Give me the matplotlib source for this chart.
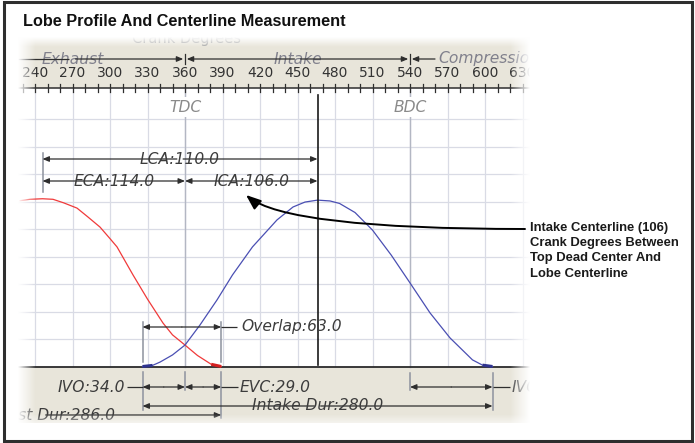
import matplotlib
matplotlib.use('Agg')
import matplotlib.pyplot as plt
import numpy as np
from matplotlib.patches import Rectangle

# ---------------- data ----------------
title = 'Lobe Profile And Centerline Measurement'
note = ('Intake Centerline (106)\nCrank Degrees Between\n'
        'Top Dead Center And\nLobe Centerline')
axis_title = 'Crank Degrees'

tdc = 360.0
bdc = 540.0
ivo_btdc = 34.0
evc_atdc = 29.0
ivc_abdc = 66.0
intake_dur = 280.0
exhaust_dur = 286.0
ica = 106.0
eca = 114.0
lca = 110.0
overlap = 63.0

stroke_names = ['Exhaust', 'Intake', 'Compression']
stroke_edges = [180, 360, 540, 720]
tick_values = list(range(240, 631, 30))
minor_ticks = list(range(230, 640, 10))

intake_deg = [326, 334, 340, 350, 360, 372, 385.6, 398, 414, 433.6, 446.4, 456, 466,
              476, 483.6, 496, 510, 525, 540, 556, 572, 590, 598, 606]
intake_lift = [0, 0.04, 0.16, 0.42, 0.78, 1.51, 2.42, 3.33, 4.35, 5.33, 5.8, 5.98, 6.05,
               6.02, 5.93, 5.6, 4.96, 4.05, 3.04, 1.95, 1.04, 0.24, 0.05, 0]
exhaust_deg = [228, 236, 246, 254.4, 263, 273.6, 282, 292, 300, 305.6, 318.4, 330,
               342.4, 350, 360, 370, 381, 389]
exhaust_lift = [6.03, 6.08, 6.1, 6.08, 5.95, 5.76, 5.45, 5.07, 4.65, 4.35, 3.33, 2.45,
                1.58, 1.15, 0.78, 0.40, 0.08, 0]

# derived valve events
ivo = tdc - ivo_btdc
evc = tdc + evc_atdc
ivc = bdc + ivc_abdc
icl = tdc + ica
ecl = tdc - eca
evo = evc - exhaust_dur

# ---------------- layout ----------------
W, H = 695, 443
PXD = 1.25      # pixels per crank degree
X_TDC = 185     # pixel column of TDC
PXL = 27.5      # pixels per lift grid step
Y_BASE = 366.5  # pixel row of zero lift


def dx(px):
    return tdc + (px - X_TDC) / PXD


def ly(py):
    return (Y_BASE - py) / PXL


PL, PR, PT, PB = 18, 530, 37, 430
BEIGE = '#e8e5da'
GRID = '#d9dbe5'
MAJ = '#b3b7c3'
DIM = '#2e2e2e'
EXT = '#8d929e'
TXT = '#3c3c3c'
STROKE_TXT = '#80808c'
RED = '#f03a3a'
BLUE = '#4a4fb3'
IT = dict(style='italic', family='DejaVu Sans', fontsize=11.2, clip_on=True)

fig = plt.figure(figsize=(W / 100, H / 100), dpi=100)
fig.patch.set_facecolor('white')
ax = fig.add_axes([PL / W, (H - PB) / H, (PR - PL) / W, (PB - PT) / H])
ax.set_axis_off()
X0, X1 = dx(PL), dx(PR)
Y0, Y1 = ly(PB), ly(PT)

# bands
ax.add_patch(Rectangle((X0, ly(88)), X1 - X0, Y1 - ly(88), color=BEIGE, lw=0, zorder=0))
ax.add_patch(Rectangle((X0, ly(423)), X1 - X0, ly(367) - ly(423), color=BEIGE, lw=0, zorder=0))

# grid
top_grid = ly(88)
for v in tick_values:
    ax.plot([v, v], [0, top_grid], color=GRID, lw=0.9, zorder=1)
for k in range(1, 10):
    ax.plot([X0, X1], [k, k], color=GRID, lw=0.9, zorder=1)
for v in (tdc, bdc):
    ax.plot([v, v], [0, top_grid], color=MAJ, lw=1.0, zorder=1.5)
for v, s in ((tdc, 'TDC'), (bdc, 'BDC')):
    ax.text(v, ly(107), s, ha='center', va='center', color='#8a8a8a', zorder=2,
            bbox=dict(boxstyle='square,pad=0.15', fc='white', ec='none'), **IT)

# tick row
ax.plot([X0, X1], [ly(88), ly(88)], color=DIM, lw=1.1, zorder=3)
for v in minor_ticks:
    ax.plot([v, v], [ly(84), ly(92)], color=DIM, lw=0.9, zorder=3)
for v in tick_values:
    ax.text(v, ly(73), str(v), ha='center', va='center', fontsize=10,
            family='DejaVu Sans', color='#333333', zorder=3, clip_on=True)
ax.text(dx(186), ly(38.5), axis_title, ha='center', va='center', color='#a8a8a8',
        family='DejaVu Sans', fontsize=10.5, zorder=3, clip_on=True)

# baseline & centerline
ax.plot([X0, X1], [0, 0], color='#2a2a2a', lw=1.3, zorder=4)
ax.plot([icl, icl], [0.05, ly(95)], color='#1a1a1a', lw=1.2, zorder=6)

# lobes
ax.plot(exhaust_deg, exhaust_lift, color=RED, lw=0.9, zorder=5)
ax.plot(exhaust_deg[-2:], exhaust_lift[-2:], color='#d42020', lw=2.2, zorder=5,
        solid_capstyle='butt')
ax.plot(intake_deg, intake_lift, color=BLUE, lw=0.9, zorder=5)
ax.plot(intake_deg[:2], intake_lift[:2], color='#2f338f', lw=2.2, zorder=5,
        solid_capstyle='butt')
ax.plot(intake_deg[-2:], intake_lift[-2:], color='#2f338f', lw=2.2, zorder=5,
        solid_capstyle='butt')

renderer = fig.canvas.get_renderer()
inv = ax.transData.inverted()
GAP = 3 / PXD


def span(t):
    bb = t.get_window_extent(renderer=renderer)
    (a, _), (b, _) = inv.transform([[bb.x0, bb.y0], [bb.x1, bb.y1]])
    return a, b


def seg(x0, x1, y, color=DIM, lw=0.9, z=7):
    ax.plot([x0, x1], [y, y], color=color, lw=lw, zorder=z, solid_capstyle='butt')


def arrow(x_from, x_to, y, color=DIM, lw=0.9, z=7):
    ax.annotate('', xy=(x_to, y), xytext=(x_from, y),
                arrowprops=dict(arrowstyle='-|>,head_length=0.38,head_width=0.16',
                                mutation_scale=10, lw=lw, color=color,
                                shrinkA=0, shrinkB=0), zorder=z)


def vline(x, py0, py1, color=EXT, lw=1.1, z=6):
    ax.plot([x, x], [ly(py0), ly(py1)], color=color, lw=lw, zorder=z)


def dim(xa, xb, py, label=None, color=DIM):
    y = ly(py)
    if label is None:
        arrow(0.5 * (xa + xb), xa, y, color)
        arrow(0.5 * (xa + xb), xb, y, color)
        return
    t = ax.text(0.5 * (xa + xb), y, label, ha='center', va='center', color=TXT,
                zorder=8, **IT)
    a, b = span(t)
    arrow(a - GAP, xa, y, color)
    arrow(b + GAP, xb, y, color)


# stroke row
yr = ly(59)
mids = [0.5 * (stroke_edges[i] + stroke_edges[i + 1]) for i in range(3)]
t_ex = ax.text(mids[0], yr, stroke_names[0], ha='center', va='center', color=STROKE_TXT, zorder=3, **IT)
t_in = ax.text(mids[1], yr, stroke_names[1], ha='center', va='center', color=STROKE_TXT, zorder=3, **IT)
t_co = ax.text(dx(438), yr, stroke_names[2], ha='left', va='center', color=STROKE_TXT, zorder=3, **IT)
a, b = span(t_ex)
seg(X0, a - GAP, yr)
arrow(b + GAP, stroke_edges[1] - 1.4, yr)
a, b = span(t_in)
arrow(a - GAP, stroke_edges[1] + 1.4, yr)
arrow(b + GAP, stroke_edges[2] - 1.4, yr)
a, b = span(t_co)
arrow(a - GAP, stroke_edges[2] + 1.4, yr)
for v in stroke_edges[1:3]:
    vline(v, 54, 64, color=DIM, lw=0.9)

# centerline dimensions
vline(ecl, 153, 192)
dim(ecl, icl, 159, f'LCA:{lca:.1f}')
dim(ecl, tdc, 181, f'ECA:{eca:.1f}')
dim(tdc, icl, 181, f'ICA:{ica:.1f}')

# overlap
vline(ivo, 322, 362)
vline(evc, 322, 362)
dim(ivo, evc, 327)
seg(evc, dx(237), ly(327))
ax.text(dx(241), ly(327), f'Overlap:{overlap:.1f}', ha='left', va='center',
        color=TXT, zorder=8, **IT)

# footer dimensions
vline(ivo, 372, 410)
vline(evc, 372, 418)
vline(tdc, 372, 390)
vline(bdc, 373, 390)
vline(ivc, 373, 410)
yv = 387
dim(ivo, tdc, yv)
dim(tdc, evc, yv)
dim(bdc, ivc, yv)
t = ax.text(dx(125), ly(yv), f'IVO:{ivo_btdc:.1f}', ha='right', va='center', color=TXT, zorder=8, **IT)
seg(span(t)[1] + GAP * 0.6, ivo, ly(yv))
t = ax.text(dx(240), ly(yv), f'EVC:{evc_atdc:.1f}', ha='left', va='center', color=TXT, zorder=8, **IT)
seg(evc, span(t)[0] - GAP * 0.6, ly(yv))
t = ax.text(dx(512), ly(yv), f'IVC:{ivc_abdc:.1f}', ha='left', va='center', color=TXT, zorder=8, **IT)
seg(ivc, span(t)[0] - GAP * 0.6, ly(yv))
dim(ivo, ivc, 406, f'Intake Dur:{intake_dur:.1f}')
dim(evo, evc, 415, f'Exhaust Dur:{exhaust_dur:.1f}')

# fades at panel edges
def fade(x0, x1, y0, y1, horizontal, rising):
    n = 64
    ramp = np.linspace(0, 1, n) if rising else np.linspace(1, 0, n)
    img = np.ones((n, n, 4))
    if horizontal:
        img[:, :, 3] = ramp[None, :]
    else:
        img[:, :, 3] = ramp[:, None]
    ax.imshow(img, extent=[x0, x1, y0, y1], origin='lower', aspect='auto',
              interpolation='bilinear', zorder=20)

fade(X0, dx(36), Y0, Y1, True, False)
fade(dx(510), X1, Y0, Y1, True, True)
fade(X0, X1, ly(47), Y1, False, True)
fade(X0, X1, Y0, ly(414), False, False)
ax.set_xlim(X0, X1)
ax.set_ylim(Y0, Y1)

# callout arrow and note
ann = ax.annotate('', xy=(dx(246), ly(195)), xycoords='data',
                  xytext=(525, H - 229), textcoords='figure pixels',
                  arrowprops=dict(arrowstyle='-|>,head_length=0.9,head_width=0.35',
                                  mutation_scale=10, lw=1.4, color='black',
                                  connectionstyle='angle3,angleA=0,angleB=-40',
                                  shrinkA=0, shrinkB=0),
                  annotation_clip=False, zorder=30)
ann.arrow_patch.set_clip_on(False)
fig.text(530 / W, 1 - 222 / H, note, ha='left', va='top', fontsize=9.4,
         family='Liberation Sans', weight='bold', color='#1a1a1a', linespacing=1.36)

# title and frame
fig.text(23 / W, 1 - 22 / H, title, ha='left', va='center', fontsize=11.7,
         family='Liberation Sans', weight='bold', color='#111111')
fig.add_artist(Rectangle((4 / W, 2 / H), 688 / W, 439.5 / H, transform=fig.transFigure,
                         fill=False, lw=2.2, ec='#2e2e2e'))

fig.savefig('out.png', dpi=100)
